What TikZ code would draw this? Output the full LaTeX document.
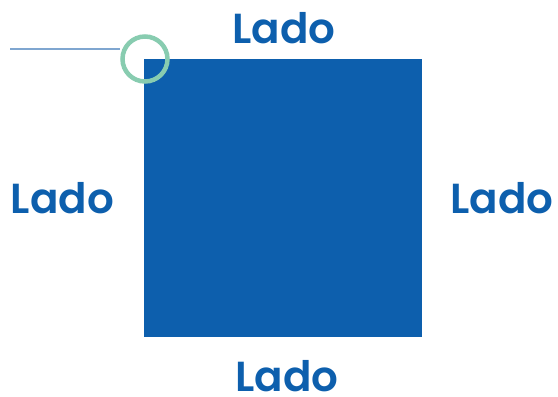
\documentclass[tikz,border=0pt]{standalone}
\usepackage{fontspec}
\newfontfamily\ladofont{Poppins}[UprightFont=* SemiBold]
\definecolor{sqblue}{HTML}{0D5FAD}
\definecolor{ringgreen}{HTML}{88CCB0}
\definecolor{lineblue}{HTML}{7FA6D0}
\begin{document}
\begin{tikzpicture}[x=1pt,y=-1pt,
  lbl/.style={inner sep=0pt,anchor=base,text=sqblue,font=\ladofont\fontsize{42}{42}\selectfont}]
\useasboundingbox (0,0) rectangle (558,397);
\fill[sqblue] (144,59) rectangle (422,337);
\coordinate (c) at (145,59);
\coordinate (s) at (10,49);
\node[circle,draw=ringgreen,line width=4.5pt,minimum size=45pt,inner sep=0pt] (ring) at (c) {};
\draw[lineblue,line width=1.6pt] (s) -- (ring.west |- s);
\node[lbl] (top) at (284,43) {Lado};
\node[lbl] (left) at (62.5,213) {Lado};
\node[lbl] (right) at (502,213) {Lado};
\node[lbl] (bottom) at (287,391) {Lado};
\end{tikzpicture}
\end{document}
